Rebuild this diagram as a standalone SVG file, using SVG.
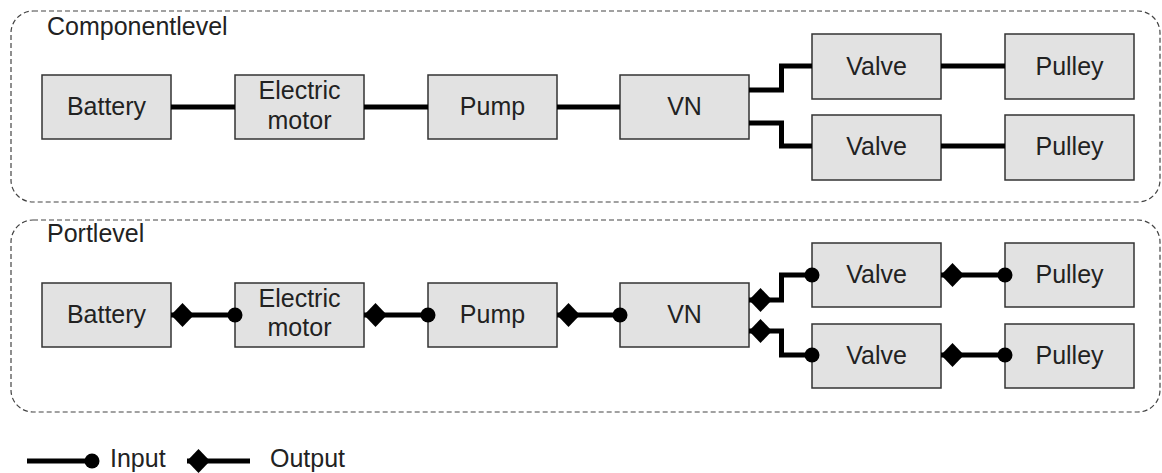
<svg xmlns="http://www.w3.org/2000/svg" width="1162" height="473" viewBox="0 0 1162 473">
<style>
.frame{fill:none;stroke:#444;stroke-width:1.2;stroke-dasharray:5 3}
.box{fill:#e2e2e2;stroke:#333;stroke-width:1.5}
.t{font-family:"Liberation Sans",Arial,sans-serif;font-size:25px;fill:#222}
.c{text-anchor:middle}
.w{fill:none;stroke:#000;stroke-width:5}
.p{marker-start:url(#out);marker-end:url(#in)}
</style>
<defs>
<marker id="out" markerUnits="userSpaceOnUse" viewBox="0 -12 23 24" markerWidth="23" markerHeight="24" refX="0" refY="0" orient="auto">
<path d="M0,0 L11.5,-12 L23,0 L11.5,12 Z" fill="#000"/>
</marker>
<marker id="in" markerUnits="userSpaceOnUse" viewBox="-8 -8 16 16" markerWidth="16" markerHeight="16" refX="0" refY="0" orient="auto">
<circle cx="0" cy="0" r="7.5" fill="#000"/>
</marker>
</defs>
<g id="frames">
<rect class="frame" x="11" y="11" width="1149" height="191" rx="22"/>
<text class="t" x="47" y="35">Componentlevel</text>
<rect class="frame" x="11" y="220" width="1149" height="192" rx="22"/>
<text class="t" x="47" y="242">Portlevel</text>
</g>
<g id="c-battery"><rect class="box" x="42" y="75" width="129" height="64"/><text class="t c" x="106.5" y="115">Battery</text></g>
<g id="c-motor"><rect class="box" x="235" y="75" width="129" height="64"/><text class="t c" x="299.5" y="99">Electric</text><text class="t c" x="299.5" y="128.5">motor</text></g>
<g id="c-pump"><rect class="box" x="428" y="75" width="129" height="64"/><text class="t c" x="492.5" y="115">Pump</text></g>
<g id="c-vn"><rect class="box" x="620" y="75" width="129" height="64"/><text class="t c" x="684.5" y="115">VN</text></g>
<g id="c-valve1"><rect class="box" x="812" y="34" width="129" height="65"/><text class="t c" x="876.5" y="75">Valve</text></g>
<g id="c-pulley1"><rect class="box" x="1005" y="34" width="129" height="65"/><text class="t c" x="1069.5" y="75">Pulley</text></g>
<g id="c-valve2"><rect class="box" x="812" y="115" width="129" height="65"/><text class="t c" x="876.5" y="155">Valve</text></g>
<g id="c-pulley2"><rect class="box" x="1005" y="115" width="129" height="65"/><text class="t c" x="1069.5" y="155">Pulley</text></g>
<g id="p-battery"><rect class="box" x="42" y="283" width="129" height="64"/><text class="t c" x="106.5" y="323">Battery</text></g>
<g id="p-motor"><rect class="box" x="235" y="283" width="129" height="64"/><text class="t c" x="299.5" y="306.5">Electric</text><text class="t c" x="299.5" y="336">motor</text></g>
<g id="p-pump"><rect class="box" x="428" y="283" width="129" height="64"/><text class="t c" x="492.5" y="323">Pump</text></g>
<g id="p-vn"><rect class="box" x="620" y="283" width="129" height="64"/><text class="t c" x="684.5" y="323">VN</text></g>
<g id="p-valve1"><rect class="box" x="812" y="243" width="129" height="64"/><text class="t c" x="876.5" y="283">Valve</text></g>
<g id="p-pulley1"><rect class="box" x="1005" y="243" width="129" height="64"/><text class="t c" x="1069.5" y="283">Pulley</text></g>
<g id="p-valve2"><rect class="box" x="812" y="324" width="129" height="64"/><text class="t c" x="876.5" y="364">Valve</text></g>
<g id="p-pulley2"><rect class="box" x="1005" y="324" width="129" height="64"/><text class="t c" x="1069.5" y="364">Pulley</text></g>
<g id="connectors">
<path class="w" d="M171,107 H235"/>
<path class="w" d="M364,107 H428"/>
<path class="w" d="M557,107 H620"/>
<path class="w" d="M749,90 H781.5 V66 H812"/>
<path class="w" d="M749,123 H781.5 V146 H812"/>
<path class="w" d="M941,66 H1005"/>
<path class="w" d="M941,146 H1005"/>
<path class="w p" d="M171,315 H235"/>
<path class="w p" d="M364,315 H428"/>
<path class="w p" d="M557,315 H620"/>
<path class="w p" d="M749,300 H781.5 V275 H812"/>
<path class="w p" d="M749,331 H781.5 V355 H812"/>
<path class="w p" d="M941,275 H1005"/>
<path class="w p" d="M941,355 H1005"/>
</g>
<g id="legend">
<path class="w" d="M27,461 H92" style="marker-end:url(#in)"/>
<text class="t" x="110" y="467">Input</text>
<path class="w" d="M187,461 H250" style="marker-start:url(#out)"/>
<text class="t" x="270" y="467">Output</text>
</g>
</svg>
